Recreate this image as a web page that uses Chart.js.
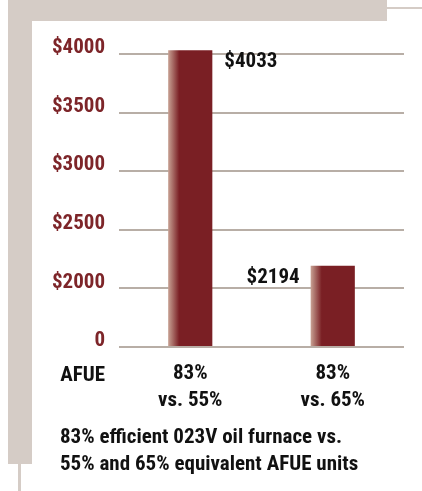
<!DOCTYPE html>
<html>
<head>
<meta charset="utf-8">
<script src="https://cdn.jsdelivr.net/npm/chart.js@4/dist/chart.umd.min.js"></script>
<style>
  html, body { margin: 0; padding: 0; background: #ffffff; }
  body { width: 422px; height: 491px; position: relative; overflow: hidden; }
  .band { position: absolute; background: #d5ccc6; }
  #cwrap { position: absolute; left: 0; top: 0; width: 422px; height: 491px; }
  #caption { position: absolute; left: 60px; top: 423px; font-family: 'Roboto Condensed', Roboto, sans-serif;
    font-weight: bold; font-size: 21px; line-height: 27px; color: #111; white-space: nowrap; }
</style>
</head>
<body>
<div class="band" style="left:8px;top:0;width:379px;height:21px;"></div>
<div class="band" style="left:387px;top:7px;width:35px;height:2px;"></div>
<div class="band" style="left:8px;top:0;width:24px;height:464px;"></div>
<div class="band" style="left:18px;top:464px;width:3px;height:27px;"></div>
<div id="cwrap"><canvas id="c" width="422" height="491"></canvas></div>
<div id="caption">83% efficient 023V oil furnace vs.<br>55% and 65% equivalent AFUE units</div>
<script>
const categories = [["83%", "vs. 55%"], ["83%", "vs. 65%"]];
const costs = [4033, 2194];
const valueLabels = ["$4033", "$2194"];
const tickValues = [1500, 2000, 2500, 3000, 3500, 4000];
const tickLabels = ["0", "$2000", "$2500", "$3000", "$3500", "$4000"];
const axisTitle = "AFUE";

const FONT = "'Roboto Condensed', Roboto, sans-serif";
const RED = '#7a1f24';
const BAR_PCT = 0.31;

function barFill(ctx) {
  const chart = ctx.chart;
  const xs = chart.scales && chart.scales.x;
  if (!xs || ctx.type !== 'data' || !isFinite(xs.left)) return RED;
  const cw = (xs.right - xs.left) / categories.length;
  const bw = cw * BAR_PCT;
  const l = xs.getPixelForValue(ctx.dataIndex) - bw / 2;
  const g = chart.ctx.createLinearGradient(l, 0, l + bw * 0.25, 0);
  g.addColorStop(0, '#c8a294');
  g.addColorStop(1, RED);
  return g;
}

const extrasPlugin = {
  id: 'extras',
  afterDatasetsDraw(chart) {
    const c = chart.ctx;
    const meta = chart.getDatasetMeta(0);
    c.save();
    c.font = 'bold 21px ' + FONT;
    c.fillStyle = '#111111';
    c.textBaseline = 'alphabetic';
    meta.data.forEach((bar, i) => {
      const half = bar.width / 2;
      if (i === 0) {
        c.textAlign = 'left';
        c.fillText(valueLabels[i], bar.x + half + 12, bar.y + 17);
      } else {
        c.textAlign = 'right';
        c.fillText(valueLabels[i], bar.x - half - 11, bar.y + 17.5);
      }
    });
    const ys = chart.scales.y;
    c.textAlign = 'right';
    c.fillText(axisTitle, ys.right - 14, 381);
    c.restore();
  }
};

new Chart(document.getElementById('c'), {
  type: 'bar',
  data: {
    labels: categories,
    datasets: [{
      data: costs,
      base: 1500,
      backgroundColor: barFill,
      borderWidth: 0,
      barPercentage: BAR_PCT,
      categoryPercentage: 1,
      clip: false
    }]
  },
  options: {
    responsive: false,
    animation: false,
    events: [],
    layout: { padding: { top: 54, right: 18, left: 0, bottom: 0 } },
    plugins: { legend: { display: false }, tooltip: { enabled: false }, title: { display: false } },
    scales: {
      x: {
        grid: { display: false, drawTicks: false },
        border: { display: false },
        ticks: {
          color: '#111111',
          font: { family: FONT, size: 21, weight: 'bold', lineHeight: 1.3 },
          padding: 13,
          maxRotation: 0
        },
        afterFit(scale) { scale.height = 144; }
      },
      y: {
        min: 1500,
        max: 4000,
        afterBuildTicks(scale) { scale.ticks = tickValues.map(v => ({ value: v })); },
        grid: { color: '#b8aea6', lineWidth: 2, drawTicks: false },
        border: { display: false },
        ticks: {
          color: '#7d2529',
          font: { family: FONT, size: 21, weight: 'bold' },
          padding: 14,
          labelOffset: -6,
          callback(v) { const i = tickValues.indexOf(v); return i >= 0 ? tickLabels[i] : ''; }
        },
        afterFit(scale) { scale.width = 119; }
      }
    }
  },
  plugins: [extrasPlugin]
});
</script>
</body>
</html>
